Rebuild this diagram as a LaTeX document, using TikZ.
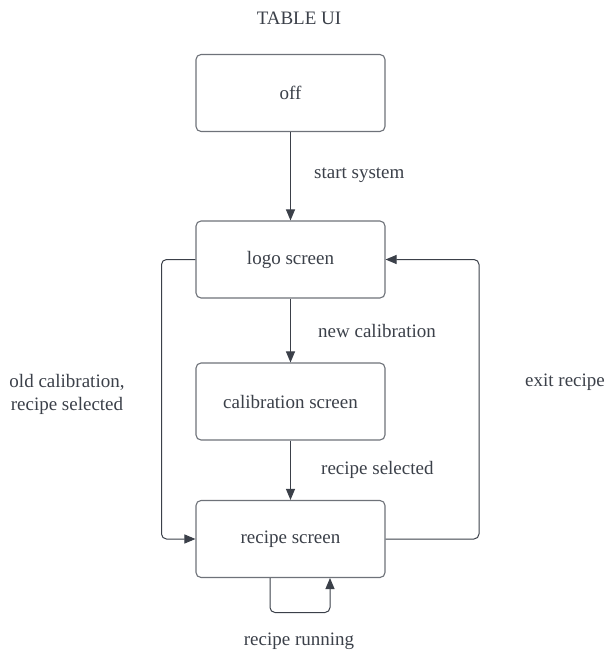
\documentclass[tikz,border=0pt]{standalone}
\usepackage{fontspec}
\setmainfont{Liberation Serif}
\usetikzlibrary{arrows.meta}
\definecolor{ink}{HTML}{3B4049}
\definecolor{frame}{HTML}{6E7279}
\tikzset{
  state/.style={draw=frame, line width=1.1pt, rounded corners=5pt, fill=white,
    minimum width=189pt, minimum height=77pt, inner sep=0pt,
    font=\fontsize{19}{22}\selectfont, text=ink},
  lbl/.style={font=\fontsize{19}{23}\selectfont, text=ink, inner sep=0pt},
  link/.style={draw=ink, line width=1pt, rounded corners=5pt,
    -{Triangle[length=11pt, width=9pt]}},
}
\begin{document}
\begin{tikzpicture}[x=1pt, y=-1pt]
  \useasboundingbox (0,0) rectangle (605,651);

  \node[lbl] (title) at (299,18) {TABLE UI};

  \node[state] (off)  at (290.5,93)    {off};
  \node[state] (logo) at (290.5,259.5) {logo screen};
  \node[state] (cal)  at (290.5,401.5) {calibration screen};
  \node[state] (rec)  at (290.5,539)   {recipe screen};

  % straight transitions down the middle
  \draw[link] (off) -- (logo);
  \draw[link] (logo) -- (cal);
  \draw[link] (cal) -- (rec);

  % bypass on the left, return on the right
  \draw[link] (logo.west) -- (161.5,259.5) -- (161.5,539) -- (rec.west);
  \draw[link] (rec.east) -- (479,539) -- (479,259.5) -- (logo.east);

  % self loop under the recipe screen
  \coordinate (loopA) at (270,578);
  \coordinate (loopB) at (330,578);
  \draw[link] (loopA) -- (270,612.5) -- (330,612.5) -- (loopB);

  % transition labels
  \node[lbl, anchor=west] (l1) at (314,175) {start system};
  \node[lbl, anchor=west] (l2) at (318,331) {new calibration};
  \node[lbl, anchor=west] (l3) at (321,470) {recipe selected};
  \node[lbl, align=center] (l4) at (67,394) {old calibration,\\recipe selected};
  \node[lbl] (l5) at (565,382) {exit recipe};
  \node[lbl] (l6) at (299,641) {recipe running};
\end{tikzpicture}
\end{document}
